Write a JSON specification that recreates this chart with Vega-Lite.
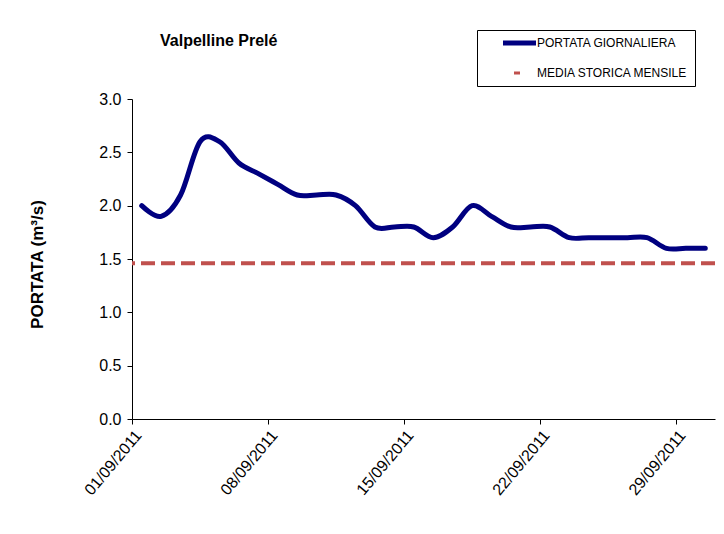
{
  "$schema": "https://vega.github.io/schema/vega-lite/v6.json",
  "width": 583,
  "height": 320,
  "autosize": "none",
  "padding": {"left": 132, "top": 99, "right": 9, "bottom": 115},
  "background": "white",
  "title": {
    "text": "Valpelline  Prelé",
    "anchor": "start",
    "frame": "group",
    "dx": 28,
    "offset": 0,
    "dy": 32,
    "baseline": "alphabetic",
    "font": "Liberation Sans",
    "fontSize": 16,
    "fontWeight": "bold",
    "color": "black"
  },
  "config": {"view": {"stroke": null}, "font": "Liberation Sans"},
  "layer": [
    {
      "data": {
        "values": [
          {"date": "2011-09-01T12:00:00Z", "portata": 2.0, "series": "PORTATA GIORNALIERA"},
          {"date": "2011-09-02T12:00:00Z", "portata": 1.9, "series": "PORTATA GIORNALIERA"},
          {"date": "2011-09-03T12:00:00Z", "portata": 2.1, "series": "PORTATA GIORNALIERA"},
          {"date": "2011-09-04T12:00:00Z", "portata": 2.6, "series": "PORTATA GIORNALIERA"},
          {"date": "2011-09-05T12:00:00Z", "portata": 2.6, "series": "PORTATA GIORNALIERA"},
          {"date": "2011-09-06T12:00:00Z", "portata": 2.4, "series": "PORTATA GIORNALIERA"},
          {"date": "2011-09-07T12:00:00Z", "portata": 2.3, "series": "PORTATA GIORNALIERA"},
          {"date": "2011-09-08T12:00:00Z", "portata": 2.2, "series": "PORTATA GIORNALIERA"},
          {"date": "2011-09-09T12:00:00Z", "portata": 2.1, "series": "PORTATA GIORNALIERA"},
          {"date": "2011-09-10T12:00:00Z", "portata": 2.1, "series": "PORTATA GIORNALIERA"},
          {"date": "2011-09-11T12:00:00Z", "portata": 2.1, "series": "PORTATA GIORNALIERA"},
          {"date": "2011-09-12T12:00:00Z", "portata": 2.0, "series": "PORTATA GIORNALIERA"},
          {"date": "2011-09-13T12:00:00Z", "portata": 1.8, "series": "PORTATA GIORNALIERA"},
          {"date": "2011-09-14T12:00:00Z", "portata": 1.8, "series": "PORTATA GIORNALIERA"},
          {"date": "2011-09-15T12:00:00Z", "portata": 1.8, "series": "PORTATA GIORNALIERA"},
          {"date": "2011-09-16T12:00:00Z", "portata": 1.7, "series": "PORTATA GIORNALIERA"},
          {"date": "2011-09-17T12:00:00Z", "portata": 1.8, "series": "PORTATA GIORNALIERA"},
          {"date": "2011-09-18T12:00:00Z", "portata": 2.0, "series": "PORTATA GIORNALIERA"},
          {"date": "2011-09-19T12:00:00Z", "portata": 1.9, "series": "PORTATA GIORNALIERA"},
          {"date": "2011-09-20T12:00:00Z", "portata": 1.8, "series": "PORTATA GIORNALIERA"},
          {"date": "2011-09-21T12:00:00Z", "portata": 1.8, "series": "PORTATA GIORNALIERA"},
          {"date": "2011-09-22T12:00:00Z", "portata": 1.8, "series": "PORTATA GIORNALIERA"},
          {"date": "2011-09-23T12:00:00Z", "portata": 1.7, "series": "PORTATA GIORNALIERA"},
          {"date": "2011-09-24T12:00:00Z", "portata": 1.7, "series": "PORTATA GIORNALIERA"},
          {"date": "2011-09-25T12:00:00Z", "portata": 1.7, "series": "PORTATA GIORNALIERA"},
          {"date": "2011-09-26T12:00:00Z", "portata": 1.7, "series": "PORTATA GIORNALIERA"},
          {"date": "2011-09-27T12:00:00Z", "portata": 1.7, "series": "PORTATA GIORNALIERA"},
          {"date": "2011-09-28T12:00:00Z", "portata": 1.6, "series": "PORTATA GIORNALIERA"},
          {"date": "2011-09-29T12:00:00Z", "portata": 1.6, "series": "PORTATA GIORNALIERA"},
          {"date": "2011-09-30T12:00:00Z", "portata": 1.6, "series": "PORTATA GIORNALIERA"}
        ]
      },
      "mark": {"type": "line", "interpolate": "cardinal", "strokeWidth": 5, "strokeCap": "round", "strokeJoin": "round"},
      "encoding": {
        "x": {
          "field": "date",
          "type": "temporal",
          "scale": {
            "type": "utc",
            "domain": [
              {"year": 2011, "month": 9, "date": 1, "utc": true},
              {"year": 2011, "month": 10, "date": 1, "utc": true}
            ]
          },
          "axis": {
            "title": null,
            "values": [
              {"year": 2011, "month": 9, "date": 1, "utc": true},
              {"year": 2011, "month": 9, "date": 8, "utc": true},
              {"year": 2011, "month": 9, "date": 15, "utc": true},
              {"year": 2011, "month": 9, "date": 22, "utc": true},
              {"year": 2011, "month": 9, "date": 29, "utc": true}
            ],
            "format": "%d/%m/%Y",
            "grid": false,
            "labelAngle": -50,
            "labelAlign": "right",
            "labelBaseline": "top",
            "labelFontSize": 16,
            "labelColor": "black",
            "labelPadding": 3,
            "tickSize": 5,
            "tickColor": "black",
            "domainColor": "black",
            "labelOverlap": false,
            "labelFlush": false
          }
        },
        "y": {
          "field": "portata",
          "type": "quantitative",
          "scale": {"domain": [0, 3]},
          "axis": {
            "title": "PORTATA (m³/s)",
            "values": [0, 0.5, 1, 1.5, 2, 2.5, 3],
            "format": ".1f",
            "grid": false,
            "labelFontSize": 16,
            "labelColor": "black",
            "labelPadding": 6,
            "tickSize": 5,
            "tickColor": "black",
            "domainColor": "black",
            "titleFontSize": 17,
            "titleFontWeight": "bold",
            "titleColor": "black",
            "titleX": -90,
            "titleY": 165,
            "titleBaseline": "alphabetic"
          }
        },
        "color": {
          "field": "series",
          "type": "nominal",
          "scale": {
            "domain": ["PORTATA GIORNALIERA", "MEDIA STORICA MENSILE"],
            "range": ["#000080", "#C0504D"]
          },
          "legend": {
            "orient": "none",
            "legendX": 345,
            "legendY": -69,
            "title": null,
            "strokeColor": "black",
            "fillColor": "white",
            "padding": 7,
            "symbolType": "stroke",
            "symbolSize": 1089,
            "symbolStrokeWidth": 5,
            "symbolOffset": 29.5,
            "labelOffset": 11.5,
            "labelFontSize": 12,
            "labelColor": "black",
            "rowPadding": 14,
            "encode": {
              "symbols": {
                "update": {
                  "strokeDash": {"signal": "datum.value === 'MEDIA STORICA MENSILE' ? [0, 11, 6, 100] : [1, 0]"},
                  "strokeWidth": {"signal": "datum.value === 'MEDIA STORICA MENSILE' ? 3 : 5"}
                }
              }
            }
          }
        }
      }
    },
    {
      "data": {"values": [{"series": "MEDIA STORICA MENSILE", "portata": 1.46}]},
      "mark": {"type": "rule", "strokeWidth": 4, "strokeDash": [14, 6]},
      "encoding": {
        "y": {"field": "portata", "type": "quantitative"},
        "color": {"field": "series", "type": "nominal"}
      }
    }
  ]
}
